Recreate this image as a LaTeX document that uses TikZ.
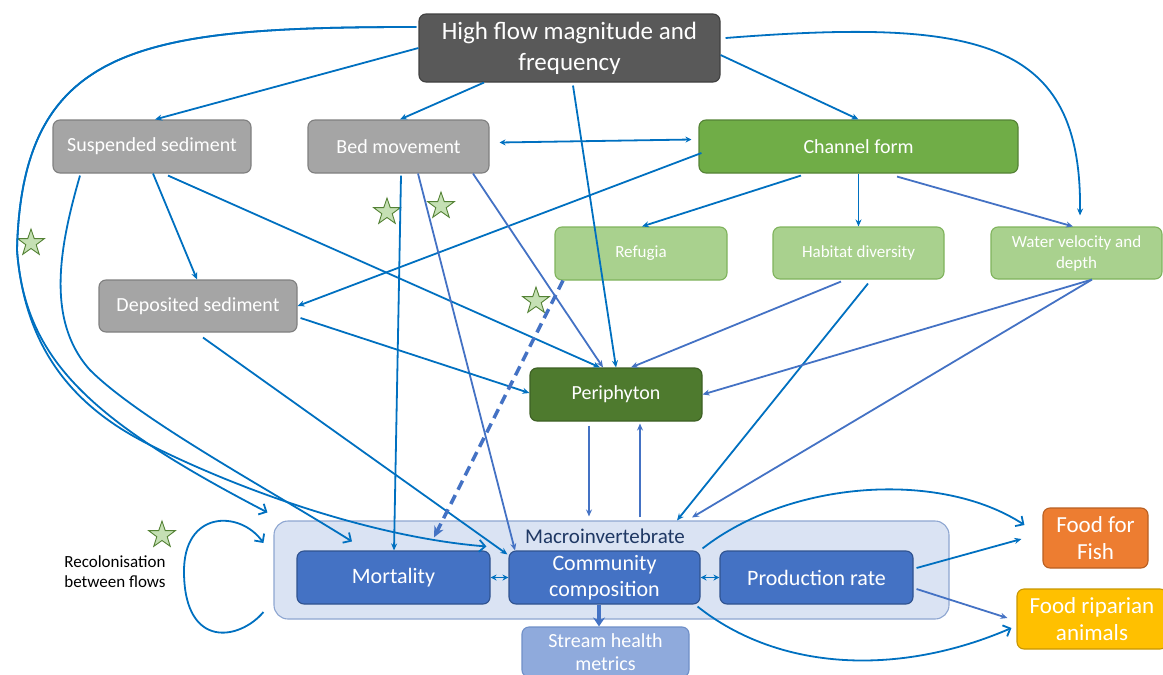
\documentclass[tikz,border=0pt]{standalone}
\usepackage{fontspec}
\setmainfont{Carlito}
\usetikzlibrary{arrows.meta,shapes.geometric}

\definecolor{darkbox}{HTML}{595959}
\definecolor{darkboxline}{HTML}{404040}
\definecolor{greybox}{HTML}{A5A5A5}
\definecolor{greyline}{HTML}{7F7F7F}
\definecolor{chanfill}{HTML}{70AD47}
\definecolor{chanline}{HTML}{548235}
\definecolor{lightgreen}{HTML}{A9D18E}
\definecolor{lightgreenline}{HTML}{7FB35C}
\definecolor{periph}{HTML}{4E7A2E}
\definecolor{periphline}{HTML}{3D6024}
\definecolor{macrofill}{HTML}{DAE3F3}
\definecolor{macroline}{HTML}{8EA6D1}
\definecolor{macrotext}{HTML}{1F3864}
\definecolor{bluebox}{HTML}{4472C4}
\definecolor{blueline}{HTML}{2F528F}
\definecolor{healthfill}{HTML}{8FAADC}
\definecolor{healthline}{HTML}{6F8FC8}
\definecolor{fishfill}{HTML}{ED7D31}
\definecolor{fishline}{HTML}{B85F22}
\definecolor{riparfill}{HTML}{FFC000}
\definecolor{riparline}{HTML}{C89600}
\definecolor{linkdark}{HTML}{0070C0}
\definecolor{linklight}{HTML}{4472C4}
\definecolor{starfill}{HTML}{C5E0B4}
\definecolor{starline}{HTML}{548235}

\begin{document}
\begin{tikzpicture}[x=1pt,y=-1pt,
  box/.style={rounded corners=7pt, draw, line width=1.1pt, inner sep=0pt,
    align=center, text=white},
  title/.style={box, fill=darkbox, draw=darkboxline, font=\fontsize{25}{31}\selectfont},
  greynode/.style={box, fill=greybox, draw=greyline, font=\fontsize{20}{24}\selectfont},
  channode/.style={box, fill=chanfill, draw=chanline, font=\fontsize{20}{24}\selectfont},
  habnode/.style={box, fill=lightgreen, draw=lightgreenline, font=\fontsize{17}{21}\selectfont},
  perinode/.style={box, fill=periph, draw=periphline, font=\fontsize{20}{24}\selectfont},
  bluenode/.style={box, fill=bluebox, draw=blueline, font=\fontsize{22}{26}\selectfont},
  healthnode/.style={box, fill=healthfill, draw=healthline, font=\fontsize{20}{23}\selectfont},
  foodnode/.style={box, font=\fontsize{23}{27}\selectfont},
  starmark/.style={star, star points=5, star point ratio=2.55, minimum size=28pt,
    inner sep=0pt, fill=starfill, draw=starline, line width=0.9pt},
  link/.style={draw=linkdark, line width=1.8pt, -{Stealth[length=7pt,width=6pt]}},
  linklt/.style={draw=linklight, line width=1.8pt, -{Stealth[length=7pt,width=6pt]}},
  curvelink/.style={draw=linkdark, line width=1.8pt, -{Straight Barb[length=6pt,width=12pt]}},
  twoway/.style={draw=linkdark, line width=1.8pt, {Stealth[length=6pt,width=6pt]}-{Stealth[length=6pt,width=6pt]}},
]
\useasboundingbox (0,0) rectangle (1163,675);

% ---------- container for the macroinvertebrate block ----------
\node[draw=macroline, fill=macrofill, line width=1.1pt, rounded corners=14pt,
      minimum width=675pt, minimum height=98pt, inner sep=0pt] (macro) at (611.5,570) {};
\node[text=macrotext, font=\fontsize{21}{25}\selectfont, inner sep=0pt] (macrolabel) at (605,536) {Macroinvertebrate};

% ---------- boxes ----------
\node[title, minimum width=301pt, minimum height=68pt] (hf) at (569.5,48)
  {High flow magnitude and\\frequency};
\node[greynode, minimum width=198pt, minimum height=53pt] (ss) at (152,146.5) {Suspended sediment};
\node[greynode, minimum width=181pt, minimum height=53pt] (bm) at (398.5,146.5) {Bed movement};
\node[channode, minimum width=319pt, minimum height=53pt] (cf) at (858.5,146.5) {Channel form};
\node[habnode, minimum width=172pt, minimum height=53pt] (rf) at (641,253.5) {Refugia};
\node[habnode, minimum width=171pt, minimum height=52pt] (hd) at (858.5,253) {Habitat diversity};
\node[habnode, minimum width=171pt, minimum height=52pt] (wv) at (1076.5,253) {Water velocity and\\depth};
\node[greynode, minimum width=198pt, minimum height=52pt] (ds) at (198,306) {Deposited sediment};
\node[perinode, minimum width=172pt, minimum height=53pt] (pe) at (616,394.5) {Periphyton};
\node[bluenode, minimum width=193pt, minimum height=53pt] (mo) at (393.5,577.5) {Mortality};
\node[bluenode, minimum width=191pt, minimum height=53pt] (cc) at (604.5,577.5) {Community\\composition};
\node[bluenode, minimum width=193pt, minimum height=53pt] (pr) at (816.5,577.5) {Production rate};
\node[healthnode, minimum width=167pt, minimum height=50pt] (sh) at (605.5,652) {Stream health\\metrics};
\node[foodnode, fill=fishfill, draw=fishline, minimum width=105pt, minimum height=60pt] (ff) at (1095.5,538) {Food for\\Fish};
\node[foodnode, fill=riparfill, draw=riparline, minimum width=150pt, minimum height=60pt] (fr) at (1092,619) {Food riparian\\animals};
\node[align=left, font=\fontsize{17}{20}\selectfont, inner sep=0pt] (recol) at (115,572)
  {Recolonisation\\between flows};

% ---------- stars ----------
\node[starmark] (st1) at (31,243) {};
\node[starmark] (st2) at (387,212) {};
\node[starmark] (st3) at (441,206) {};
\node[starmark] (st4) at (536,301) {};
\node[starmark] (st5) at (162,535) {};

% ---------- links from high flow ----------
\draw[link] (hf.west) -- ([xshift=3pt]ss.north);
\draw[link] ([xshift=-85.5pt]hf.south) -- ([xshift=1.5pt]bm.north);
\draw[link] ([xshift=3.5pt,yshift=-3pt]hf.south) -- (pe.north);
\draw[link] ([yshift=-7pt]hf.east) -- (cf.north);
\draw[link] ([xshift=5pt,yshift=10pt]hf.east) .. controls (980,18) and (1082,40) .. ([xshift=3.5pt,yshift=11pt]wv.north);
\draw[curvelink] ([xshift=-2pt,yshift=21pt]hf.west) .. controls (140,27) and (22,45) .. (17,250)
  .. controls (25,360) and (90,420) .. ([xshift=-6pt,yshift=8pt]macro.north west);
\draw[curvelink] ([xshift=-2pt,yshift=21pt]hf.west) .. controls (140,27) and (22,45) .. (17,250)
  .. controls (25,355) and (80,410) .. (150,445)
  .. controls (250,495) and (380,538) .. ([xshift=-22pt,yshift=4pt]cc.north west);

% ---------- sediment and bed links ----------
\draw[twoway] ([xshift=10pt,yshift=4pt]bm.east) -- ([xshift=-7pt,yshift=7pt]cf.west);
\draw[link] ([xshift=3pt,yshift=-6.5pt]cf.west) -- (ds.east);
\draw[link] ([xshift=1pt]ss.south) -- ([xshift=-1pt]ds.north);
\draw[link] ([xshift=16pt,yshift=-2pt]ss.south) -- ([xshift=-16pt]pe.north);
\draw[curvelink] ([xshift=-72pt,yshift=-2pt]ss.south) .. controls (60,245) and (45,320) .. (90,370)
  .. controls (140,420) and (270,490) .. ([xshift=-41.5pt,yshift=9pt]mo.north);
\draw[link] ([xshift=2.5pt,yshift=-2pt]bm.south) -- ([xshift=0.5pt]mo.north);
\draw[linklt] ([xshift=19.5pt]bm.south) -- ([xshift=-89.5pt]cc.north);
\draw[linklt] ([xshift=74.5pt]bm.south) -- ([xshift=-13pt]pe.north);
\draw[link] ([xshift=3pt,yshift=-12pt]ds.east) -- ([yshift=1.5pt]pe.west);
\draw[link] ([xshift=5pt,yshift=-5pt]ds.south) -- ([xshift=-1pt,yshift=-4pt]cc.north west);

% ---------- channel form links ----------
\draw[link] ([xshift=-57.5pt,yshift=-2pt]cf.south) -- ([xshift=1pt]rf.north);
\draw[link] (cf.south) -- (hd.north);
\draw[linklt] ([xshift=38.5pt,yshift=-3pt]cf.south) -- ([xshift=-3.5pt]wv.north);
\draw[draw=linklight, line width=3.5pt, dash pattern=on 10pt off 6pt,
      -{Stealth[length=11pt,width=10pt]}]
  ([xshift=-78pt]rf.south) -- ([xshift=40.5pt,yshift=13pt]mo.north);
\draw[linklt] ([xshift=-17.5pt,yshift=-2pt]hd.south) -- ([xshift=15pt]pe.north);
\draw[link] ([xshift=9.5pt,yshift=-4pt]hd.south) -- ([xshift=65.5pt]macro.north);
\draw[linklt] ([xshift=15.5pt]wv.south) -- (pe.east);
\draw[linklt] ([xshift=15.5pt]wv.south) -- ([xshift=80.5pt,yshift=3pt]macro.north);

% ---------- periphyton and macroinvertebrates ----------
\draw[linklt] ([xshift=-27pt,yshift=-4pt]pe.south) -- ([xshift=-22.5pt,yshift=4pt]macro.north);
\draw[linklt] ([xshift=28.5pt,yshift=3pt]macro.north) -- ([xshift=24pt,yshift=-2pt]pe.south);
\draw[twoway] (mo.east) -- (cc.west);
\draw[twoway] (cc.east) -- (pr.west);
\draw[draw=linklight, line width=3.5pt, -{Stealth[length=9pt,width=12pt]}]
  ([xshift=-5.5pt]cc.south) -- ([xshift=-6.5pt]sh.north);
\draw[curvelink] ([xshift=-10pt,yshift=-42pt]macro.west) .. controls (240,640) and (185,650) .. (184,573)
  .. controls (183,510) and (240,510) .. ([xshift=-10pt,yshift=27pt]macro.west);

% ---------- food web outputs ----------
\draw[curvelink] ([xshift=2pt,yshift=2pt]cc.north east) .. controls (790,480) and (940,470) .. ([xshift=-18pt,yshift=13pt]ff.west);
\draw[link] ([xshift=3pt,yshift=9.5pt]pr.east) -- ([xshift=-21pt,yshift=-1pt]ff.west);
\draw[linklt] ([xshift=3pt,yshift=-11.5pt]pr.east) -- ([xshift=-9pt,yshift=1pt]fr.west);
\draw[curvelink] ([xshift=-3pt,yshift=-2pt]cc.south east) .. controls (780,672) and (900,676) .. ([xshift=-5pt,yshift=-9pt]fr.west);

\end{tikzpicture}
\end{document}
